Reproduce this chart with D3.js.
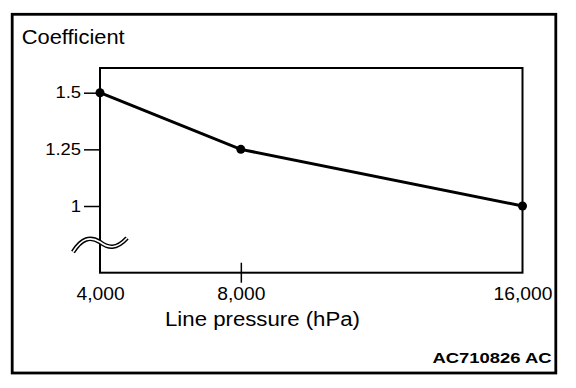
<!DOCTYPE html>
<html>
<head>
<meta charset="utf-8">
<script src="https://cdn.jsdelivr.net/npm/d3@7"></script>
<style>
  body { margin: 0; background: #fff; }
  text { font-family: "Liberation Sans", Arial, sans-serif; fill: #000; }
</style>
</head>
<body>
<div id="chart"></div>
<script>
// data
var pressures = [4000, 8000, 16000];
var coefficients = [1.5, 1.25, 1.0];
var xTicks = [4000, 8000, 16000];
var xTickLabels = ["4,000", "8,000", "16,000"];
var yTicks = [1, 1.25, 1.5];
var yTickLabels = ["1", "1.25", "1.5"];

var width = 576, height = 388;

// plot box
var box = {left: 100, top: 68, right: 522.5, bottom: 272.7};

var svg = d3.select("#chart")
    .append("svg")
    .attr("width", width)
    .attr("height", height);

// stretch text a bit wider like the original drawing
function stretch(sel, k) {
    sel.each(function() {
        var w = this.getComputedTextLength();
        d3.select(this)
            .attr("textLength", w * k)
            .attr("lengthAdjust", "spacingAndGlyphs");
    });
}

// outer frame
svg.append("rect")
    .attr("x", 12.2)
    .attr("y", 14.3)
    .attr("width", 543.6)
    .attr("height", 358.7)
    .attr("fill", "none")
    .attr("stroke", "#000")
    .attr("stroke-width", 2.8);

var x = d3.scaleLinear()
    .domain([4000, 16000])
    .range([box.left, box.right]);

var y = d3.scaleLinear()
    .domain([1, 1.5])
    .range([206, 92.7]);

// plot frame
svg.append("rect")
    .attr("x", box.left)
    .attr("y", box.top)
    .attr("width", box.right - box.left)
    .attr("height", box.bottom - box.top)
    .attr("fill", "none")
    .attr("stroke", "#000")
    .attr("stroke-width", 2);

// y axis
var yAxis = svg.append("g")
    .attr("transform", "translate(" + box.left + ",0)")
    .call(d3.axisLeft(y)
        .tickValues(yTicks)
        .tickSize(16)
        .tickPadding(3)
        .tickFormat(function(d, i) { return yTickLabels[i]; }));
yAxis.select(".domain").remove();
yAxis.selectAll("line").attr("stroke", "#000").attr("stroke-width", 1.5);
yAxis.selectAll("text")
    .style("font-size", "16px")
    .attr("fill", "#000")
    .call(stretch, 1.15);

// x axis
var xAxis = svg.append("g")
    .attr("transform", "translate(0," + box.bottom + ")")
    .call(d3.axisBottom(x)
        .tickValues(xTicks)
        .tickSize(0)
        .tickPadding(15)
        .tickFormat(function(d, i) { return xTickLabels[i]; }));
xAxis.select(".domain").remove();
xAxis.selectAll(".tick line")
    .attr("y1", function(d) { return (d == 8000) ? -10 : 0; })
    .attr("y2", function(d) { return (d == 8000) ? 10 : 0; })
    .attr("stroke", "#000")
    .attr("stroke-width", 1.5);
xAxis.selectAll("text")
    .style("font-size", "17.5px")
    .attr("fill", "#000")
    .call(stretch, 1.1);

// axis break symbol
var wave = "M73,252 C82,238 90,236 100,242 C108,248 116,250 127,238";
svg.append("path")
    .attr("d", wave)
    .attr("fill", "none")
    .attr("stroke", "#000")
    .attr("stroke-width", 4.5);
svg.append("path")
    .attr("d", wave)
    .attr("fill", "none")
    .attr("stroke", "#fff")
    .attr("stroke-width", 1.6);

// line
var line = d3.line()
    .x(function(d, i) { return x(pressures[i]); })
    .y(function(d) { return y(d); });

svg.append("path")
    .datum(coefficients)
    .attr("d", line)
    .attr("fill", "none")
    .attr("stroke", "#000")
    .attr("stroke-width", 3);

svg.selectAll(".pt")
    .data(coefficients)
    .enter()
    .append("circle")
    .attr("class", "pt")
    .attr("cx", function(d, i) { return x(pressures[i]); })
    .attr("cy", function(d) { return y(d); })
    .attr("r", 4.5)
    .attr("fill", "#000");

// labels
svg.append("text")
    .attr("x", 21.7)
    .attr("y", 44)
    .style("font-size", "20px")
    .attr("textLength", 103)
    .attr("lengthAdjust", "spacingAndGlyphs")
    .text("Coefficient");

svg.append("text")
    .attr("x", 262.5)
    .attr("y", 325.5)
    .style("text-anchor", "middle")
    .style("font-size", "20px")
    .attr("textLength", 195)
    .attr("lengthAdjust", "spacingAndGlyphs")
    .text("Line pressure (hPa)");

svg.append("text")
    .attr("x", 551.5)
    .attr("y", 363)
    .style("text-anchor", "end")
    .style("font-size", "15px")
    .style("font-weight", "bold")
    .attr("textLength", 119)
    .attr("lengthAdjust", "spacingAndGlyphs")
    .text("AC710826 AC");
</script>
</body>
</html>
